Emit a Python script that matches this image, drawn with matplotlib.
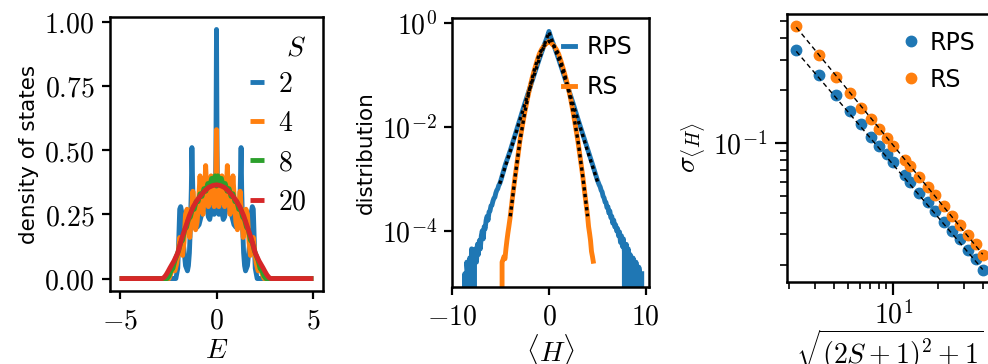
import numpy as np
import matplotlib
matplotlib.use("Agg")
import matplotlib.pyplot as plt
from matplotlib.ticker import FuncFormatter, FixedLocator, NullLocator, NullFormatter, LogLocator

plt.rcParams['font.family'] = ['DejaVu Sans']
plt.rcParams['mathtext.fontset'] = 'cm'
plt.rcParams['font.size'] = 15.5
plt.rcParams['axes.linewidth'] = 1.8

MATH_FS = 20
SANS_FS = 15.5
LEG_FS = 17

C_BLUE = '#1f77b4'
C_ORANGE = '#ff7f0e'
C_GREEN = '#2ca02c'
C_RED = '#d62728'

# ---------------- Panel 1: density of states ----------------
dos_S_labels = ['2', '4', '8', '20']

E_s2 = [-5.0, -2.2, -2.1, -2.0, -1.95, -1.9, -1.85, -1.8, -1.75, -1.7, -1.6, -1.5, -1.45, -1.4,
        -1.35, -1.3, -1.27, -1.24, -1.2, -1.15, -1.1, -1.0, -0.9, -0.8, -0.7, -0.6, -0.5, -0.42,
        -0.35, -0.28, -0.2, -0.12, -0.06, -0.03, 0.0,
        0.03, 0.06, 0.12, 0.2, 0.28, 0.35, 0.42, 0.5, 0.6, 0.7, 0.8, 0.9, 1.0, 1.1, 1.15, 1.2,
        1.24, 1.27, 1.3, 1.35, 1.4, 1.45, 1.5, 1.6, 1.7, 1.75, 1.8, 1.85, 1.9, 1.95, 2.0, 2.1, 2.2, 5.0]
D_s2 = [0.0, 0.0, 0.0, 0.04, 0.15, 0.27, 0.28, 0.26, 0.2, 0.13, 0.05, 0.03, 0.05, 0.1,
        0.2, 0.35, 0.51, 0.4, 0.28, 0.23, 0.21, 0.2, 0.21, 0.24, 0.27, 0.3, 0.28, 0.24,
        0.23, 0.26, 0.28, 0.25, 0.3, 0.5, 0.97,
        0.5, 0.3, 0.25, 0.28, 0.26, 0.23, 0.24, 0.28, 0.3, 0.27, 0.24, 0.21, 0.2, 0.21, 0.23, 0.28,
        0.4, 0.51, 0.35, 0.2, 0.1, 0.05, 0.03, 0.05, 0.13, 0.2, 0.26, 0.28, 0.27, 0.15, 0.04, 0.0, 0.0, 0.0]

E_s4 = [-5.0, -2.45, -2.35, -2.25, -2.15, -2.05, -1.98, -1.9, -1.82, -1.75, -1.68, -1.6, -1.52,
        -1.45, -1.38, -1.3, -1.22, -1.15, -1.08, -1.0, -0.92, -0.85, -0.78, -0.7, -0.62, -0.56,
        -0.5, -0.42, -0.35, -0.28, -0.2, -0.12, -0.06, -0.03, 0.0,
        0.03, 0.06, 0.12, 0.2, 0.28, 0.35, 0.42, 0.5, 0.56, 0.62, 0.7, 0.78, 0.85, 0.92, 1.0,
        1.08, 1.15, 1.22, 1.3, 1.38, 1.45, 1.52, 1.6, 1.68, 1.75, 1.82, 1.9, 1.98, 2.05, 2.15,
        2.25, 2.35, 2.45, 5.0]
D_s4 = [0.0, 0.0, 0.02, 0.05, 0.03, 0.06, 0.1, 0.16, 0.12, 0.09, 0.14, 0.25, 0.27,
        0.2, 0.16, 0.24, 0.34, 0.28, 0.19, 0.22, 0.31, 0.4, 0.3, 0.25, 0.33, 0.44,
        0.34, 0.28, 0.3, 0.4, 0.33, 0.28, 0.3, 0.4, 0.58,
        0.4, 0.3, 0.28, 0.33, 0.4, 0.3, 0.28, 0.34, 0.44, 0.33, 0.25, 0.3, 0.4, 0.31, 0.22,
        0.19, 0.28, 0.34, 0.24, 0.16, 0.2, 0.27, 0.25, 0.14, 0.09, 0.12, 0.16, 0.1, 0.06, 0.03,
        0.05, 0.02, 0.0, 0.0]

E_s8 = [-5.0, -2.55, -2.45, -2.35, -2.25, -2.15, -2.05, -1.95, -1.85, -1.75, -1.65, -1.55, -1.45,
        -1.35, -1.25, -1.15, -1.05, -0.95, -0.85, -0.75, -0.65, -0.55, -0.45, -0.35, -0.25, -0.15,
        -0.07, 0.0, 0.07, 0.15, 0.25, 0.35, 0.45, 0.55, 0.65, 0.75, 0.85, 0.95, 1.05, 1.15, 1.25,
        1.35, 1.45, 1.55, 1.65, 1.75, 1.85, 1.95, 2.05, 2.15, 2.25, 2.35, 2.45, 2.55, 5.0]
D_s8 = [0.0, 0.0, 0.01, 0.03, 0.04, 0.07, 0.09, 0.11, 0.14, 0.15, 0.19, 0.2, 0.23,
        0.24, 0.27, 0.27, 0.3, 0.3, 0.33, 0.32, 0.35, 0.34, 0.37, 0.36, 0.39, 0.37,
        0.4, 0.36, 0.4, 0.37, 0.39, 0.36, 0.37, 0.34, 0.35, 0.32, 0.33, 0.3, 0.3, 0.27, 0.27,
        0.24, 0.23, 0.2, 0.19, 0.15, 0.14, 0.11, 0.09, 0.07, 0.04, 0.03, 0.01, 0.0, 0.0]

E_s20 = [-5.0, -2.8, -2.7, -2.6, -2.5, -2.4, -2.3, -2.2, -2.0, -1.8, -1.6, -1.4, -1.2, -1.0, -0.8,
         -0.6, -0.4, -0.2, 0.0, 0.2, 0.4, 0.6, 0.8, 1.0, 1.2, 1.4, 1.6, 1.8, 2.0, 2.2, 2.3, 2.4,
         2.5, 2.6, 2.7, 2.8, 5.0]
D_s20 = [0.0, 0.0, 0.005, 0.015, 0.028, 0.042, 0.055, 0.068, 0.1, 0.155, 0.2, 0.245, 0.28, 0.305,
         0.325, 0.342, 0.355, 0.362, 0.365, 0.362, 0.355, 0.342, 0.325, 0.305, 0.28, 0.245, 0.2,
         0.155, 0.1, 0.068, 0.055, 0.042, 0.028, 0.015, 0.005, 0.0, 0.0]

# ---------------- Panel 2: distribution of <H> ----------------
H_rps = [-8.8, -8.7, -8.6, -8.5, -8.4, -8.3, -8.2, -8.1, -8.0, -7.9, -7.8, -7.7, -7.6, -7.5, -7.4,
         -7.3, -7.2, -7.1, -7.0, -6.9, -6.8, -6.7, -6.6, -6.5, -6.4, -6.3, -6.2, -6.1, -6.0, -5.9,
         -5.8, -5.7, -5.6, -5.5, -5.4, -5.3, -5.2, -5.1, -5.0,
         -4.5, -4.0, -3.5, -3.0, -2.5, -2.0, -1.5, -1.0, -0.5, -0.2, 0.0, 0.2, 0.5, 1.0, 1.5, 2.0,
         2.5, 3.0, 3.5, 4.0, 4.5,
         5.0, 5.1, 5.2, 5.3, 5.4, 5.5, 5.6, 5.7, 5.8, 5.9, 6.0, 6.1, 6.2, 6.3, 6.4, 6.5, 6.6, 6.7,
         6.8, 6.9, 7.0, 7.1, 7.2, 7.3, 7.4, 7.5, 7.6, 7.7, 7.8, 7.9, 8.0, 8.1, 8.2, 8.3, 8.4, 8.5,
         8.6, 8.7, 8.8, 8.9, 9.0, 9.1, 9.2, 9.3, 9.4, 9.5, 9.6]
P_rps = [0.0, 1.5e-5, 0.0, 2.5e-5, 1.5e-5, 0.0, 3.0e-5, 1.5e-5, 4.5e-5, 1.5e-5, 0.0, 3.0e-5,
         4.5e-5, 2.5e-5, 5.5e-5, 3.5e-5, 6.5e-5, 4.5e-5, 8.0e-5, 1.0e-4, 7.0e-5, 1.2e-4, 1.1e-4,
         1.6e-4, 1.9e-4, 1.6e-4, 2.3e-4, 2.4e-4, 3.0e-4, 3.1e-4, 3.7e-4, 4.2e-4, 4.4e-4, 5.3e-4,
         6.0e-4, 6.4e-4, 7.4e-4, 8.0e-4, 9.0e-4,
         1.9e-3, 3.5e-3, 7.0e-3, 1.4e-2, 2.8e-2, 5.4e-2, 0.105, 0.2, 0.37, 0.52, 0.68, 0.52, 0.37,
         0.2, 0.105, 5.4e-2, 2.8e-2, 1.4e-2, 7.2e-3, 3.7e-3, 1.9e-3,
         9.5e-4, 8.5e-4, 7.6e-4, 7.0e-4, 6.0e-4, 5.6e-4, 4.6e-4, 4.3e-4, 3.6e-4, 3.5e-4, 2.8e-4,
         2.9e-4, 2.2e-4, 2.4e-4, 1.8e-4, 1.9e-4, 1.4e-4, 1.6e-4, 1.2e-4, 1.3e-4, 1.0e-4, 1.1e-4,
         8.0e-5, 9.5e-5, 6.0e-5, 8.0e-5, 5.0e-5, 7.0e-5, 4.0e-5, 0.0, 5.5e-5, 3.0e-5, 4.5e-5, 0.0,
         3.5e-5, 2.0e-5, 0.0, 3.0e-5, 2.5e-5, 0.0, 2.5e-5, 1.5e-5, 0.0, 2.0e-5, 1.5e-5, 0.0, 1.5e-5]

H_rs = [-5.0, -4.9, -4.85, -4.75, -4.65, -4.55, -4.45, -4.35, -4.25, -4.15, -4.0, -3.75, -3.5,
        -3.25, -3.0, -2.75, -2.5, -2.25, -2.0, -1.75, -1.5, -1.25, -1.0, -0.75, -0.5, -0.25, 0.0,
        0.25, 0.5, 0.75, 1.0, 1.25, 1.5, 1.75, 2.0, 2.25, 2.5, 2.75, 3.0, 3.25, 3.5, 3.75, 4.0,
        4.1, 4.2, 4.3, 4.4, 4.5, 4.58]
P_rs = [0.0, 0.0, 2.5e-5, 2.8e-5, 3.2e-5, 2.9e-5, 4.5e-5, 6.5e-5, 9.0e-5, 1.2e-4, 1.9e-4,
        4.8e-4, 1.1e-3, 2.4e-3, 5.5e-3, 1.05e-2, 1.9e-2, 3.3e-2, 5.4e-2, 8.5e-2, 0.125, 0.18,
        0.25, 0.31, 0.36, 0.4, 0.44, 0.4, 0.36, 0.31, 0.25, 0.18, 0.125, 8.5e-2, 5.6e-2, 3.4e-2,
        1.9e-2, 1.0e-2, 5.2e-3, 2.4e-3, 1.1e-3, 4.5e-4, 1.9e-4, 1.2e-4, 9.0e-5, 6.5e-5, 4.0e-5,
        3.2e-5, 2.6e-5]

H_fit_rps = [-5.1, -4.0, -3.0, -2.0, -1.0, 0.0, 1.0, 2.0, 3.0, 4.0, 5.1]
P_fit_rps = [8.0e-4, 3.4e-3, 1.35e-2, 5.3e-2, 0.2, 0.66, 0.2, 5.3e-2, 1.35e-2, 3.4e-3, 8.0e-4]
H_fit_rs = [-4.0, -3.5, -3.0, -2.5, -2.0, -1.5, -1.0, -0.5, 0.0, 0.5, 1.0, 1.5, 2.0, 2.5, 3.0,
            3.5, 4.0]
P_fit_rs = [1.9e-4, 1.1e-3, 5.4e-3, 1.9e-2, 5.4e-2, 0.125, 0.25, 0.36, 0.44, 0.36, 0.25, 0.125,
            5.4e-2, 1.9e-2, 5.4e-3, 1.1e-3, 1.9e-4]

# ---------------- Panel 3: sigma vs size ----------------
S_vals = [0.5, 1, 1.5, 2, 2.5, 3, 3.5, 4, 4.5, 5.5, 6, 7, 8, 9, 10.5, 12, 13.5, 15.5, 17.5, 19.5]
sigma_rps = [0.339, 0.244, 0.1875, 0.1524, 0.128, 0.109, 0.0957, 0.0861, 0.0779, 0.0653, 0.0599,
             0.0521, 0.0460, 0.0408, 0.0354, 0.0314, 0.0281, 0.0246, 0.0218, 0.0189]
sigma_rs = [0.466, 0.320, 0.240, 0.193, 0.159, 0.138, 0.121, 0.107, 0.0957, 0.0796, 0.0736,
            0.0640, 0.0561, 0.0502, 0.0434, 0.0381, 0.0339, 0.0297, 0.0264, 0.0230]
fit_rps_ends = [0.335, 0.0189]
fit_rs_ends = [0.460, 0.0231]

# ============================================================
W, Hh = 988, 364
fig = plt.figure(figsize=(W / 100, Hh / 100), dpi=100)

def fpos(l, r, t, b):
    return [l / W, (Hh - b) / Hh, (r - l) / W, (b - t) / Hh]

def style_ticks(ax, maj=6, mino=4):
    ax.tick_params(which='major', direction='out', length=maj, width=1.6, pad=5,
                   labelsize=MATH_FS)
    ax.tick_params(which='minor', direction='out', length=mino, width=1.2)

def num_fmt(fmt):
    return FuncFormatter(lambda v, p: "$" + format(v, fmt) + "$")

def pow_fmt():
    return FuncFormatter(lambda v, p: "$10^{%d}$" % int(round(np.log10(v))))

# Panel 1
ax1 = fig.add_axes(fpos(110, 323, 17, 291))
for E, D, c, lab in zip([E_s2, E_s4, E_s8, E_s20], [D_s2, D_s4, D_s8, D_s20],
                        [C_BLUE, C_ORANGE, C_GREEN, C_RED], dos_S_labels):
    ax1.plot(E, D, color=c, lw=3.5, label="$%s$" % lab, solid_capstyle='butt')
ax1.set_xlim(-5.5, 5.5)
ax1.set_ylim(-0.0485, 1.0185)
ax1.xaxis.set_major_locator(FixedLocator([-5, 0, 5]))
ax1.yaxis.set_major_locator(FixedLocator([0, 0.25, 0.5, 0.75, 1.0]))
ax1.xaxis.set_major_formatter(num_fmt('g'))
ax1.yaxis.set_major_formatter(num_fmt('.2f'))
style_ticks(ax1)
ax1.set_xlabel("$E$", fontsize=MATH_FS, labelpad=1)
ax1.set_ylabel("density of states", fontsize=SANS_FS)
leg1 = ax1.legend(title="$S$", loc='upper right', frameon=False, handlelength=0.5,
                  handletextpad=0.5, labelspacing=0.4, borderaxespad=0.35, borderpad=0.25,
                  fontsize=MATH_FS, title_fontsize=MATH_FS)
leg1._legend_box.align = "right"
leg1._legend_box.sep = 6

# Panel 2
ax2 = fig.add_axes(fpos(452.3, 649, 18.3, 287.3))
ax2.set_yscale('log', nonpositive='clip')
ax2.plot(H_rps, P_rps, color=C_BLUE, lw=3.5, label='RPS')
ax2.plot(H_rs, P_rs, color=C_ORANGE, lw=3.5, label='RS')
ax2.plot(H_fit_rps, P_fit_rps, color='black', lw=2.4, ls=(0, (1, 1)))
ax2.plot(H_fit_rs, P_fit_rs, color='black', lw=2.4, ls=(0, (1, 1)))
ax2.set_xlim(-10, 10.35)
ax2.set_ylim(8.2e-6, 1.215)
ax2.xaxis.set_major_locator(FixedLocator([-10, 0, 10]))
ax2.xaxis.set_major_formatter(num_fmt('g'))
ax2.yaxis.set_major_locator(FixedLocator([1e-4, 1e-2, 1e0]))
ax2.yaxis.set_major_formatter(pow_fmt())
ax2.yaxis.set_minor_locator(NullLocator())
style_ticks(ax2)
ax2.set_xlabel(r"$\langle H\rangle$", fontsize=MATH_FS, labelpad=1)
ax2.set_ylabel("distribution", fontsize=SANS_FS)
ax2.legend(loc='upper right', frameon=False, handlelength=0.5, handletextpad=0.5,
           labelspacing=0.7, borderaxespad=0.3, fontsize=LEG_FS)

# Panel 3
ax3 = fig.add_axes(fpos(787, 992, 14, 281.7))
xs = [np.sqrt((2 * s + 1) ** 2 + 1) for s in S_vals]
ax3.set_xscale('log')
ax3.set_yscale('log')
ax3.plot([xs[0], xs[-1]], fit_rps_ends, color='black', lw=1.0, ls=(0, (3.5, 2.5)), zorder=3)
ax3.plot([xs[0], xs[-1]], fit_rs_ends, color='black', lw=1.0, ls=(0, (3.5, 2.5)), zorder=3)
ax3.plot(xs, sigma_rps, 'o', color=C_BLUE, ms=7.5, label='RPS', zorder=2)
ax3.plot(xs, sigma_rs, 'o', color=C_ORANGE, ms=7.5, label='RS', zorder=2)
ax3.set_xlim(1.936, 46.2)
ax3.set_ylim(0.0161, 0.548)
for axis in (ax3.xaxis, ax3.yaxis):
    axis.set_major_locator(LogLocator(base=10, numticks=10))
    axis.set_minor_locator(LogLocator(base=10, subs=np.arange(2, 10), numticks=20))
    axis.set_major_formatter(pow_fmt())
    axis.set_minor_formatter(NullFormatter())
style_ticks(ax3, maj=9, mino=5)
ax3.set_xlabel(r"$\sqrt{(2S+1)^2+1}$", fontsize=MATH_FS, labelpad=-2)
ax3.set_ylabel(r"$\sigma_{\langle H\rangle}$", fontsize=MATH_FS)
ax3.legend(loc='upper right', frameon=False, handlelength=0.6, handletextpad=0.5,
           labelspacing=0.55, borderaxespad=0.3, fontsize=LEG_FS)

fig.savefig("out.png", dpi=100)
